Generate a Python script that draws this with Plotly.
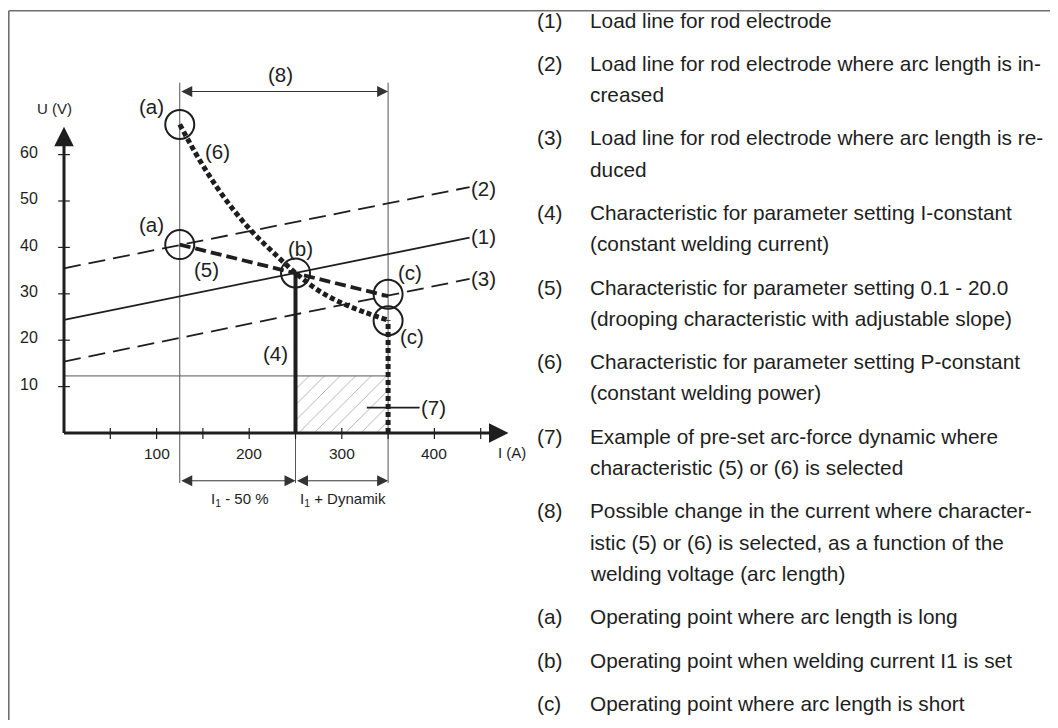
import plotly.graph_objects as go

# ---------------- data ----------------
# load lines (current A -> voltage V)
I_LOAD = [0, 438]
U_LOAD_1 = [24.4, 42.1]
U_LOAD_2 = [35.5, 53.0]
U_LOAD_3 = [15.4, 33.2]

# drooping characteristic (5)
I_DROOP = [125, 250, 350]
U_DROOP = [40.6, 34.5, 29.5]

# P-constant characteristic (6)
I_PCONST = [125, 145, 165, 185, 205, 225, 250, 275, 300, 325, 350]
U_PCONST = [66.5, 59.3, 53.0, 47.6, 43.0, 39.1, 34.5, 30.7, 28.0, 26.0, 24.3]

# key currents / voltages
I_SET = 250        # welding current I1
U_SET = 34.5
I_LOW = 125        # I1 - 50 %
I_HIGH = 350       # I1 + dynamic
U_DYN = 12.3       # top of arc-force dynamic box
U_REF_TOP = 75.5   # top of thin reference verticals
U_REF_BOT = -10.8  # bottom of thin reference verticals
U_DIM_TOP = 73.6   # (8) dimension arrow
U_DIM_BOT = -10.3  # bottom dimension arrows

# operating points (circles)
OP_I = [125, 125, 250, 350, 350]
OP_U = [66.5, 40.6, 34.5, 29.9, 24.2]

# axes
X_AXIS_END = 480
Y_AXIS_END = 66
X_TICKS = [50, 100, 150, 200, 250, 300, 350, 400, 450]
X_TICK_LABELS = [100, 200, 300, 400]
Y_TICKS = [10, 20, 30, 40, 50, 60]

# reference marks in the diagram
MARK_TEXT = ["(a)", "(6)", "(a)", "(5)", "(b)", "(4)", "(c)", "(c)",
             "(1)", "(2)", "(3)", "(7)", "(8)"]
MARK_I = [94.7, 165.5, 94.7, 153.5, 254.9, 227.9, 373.7, 375.5,
          452.8, 452.8, 452.8, 399.5, 233.3]
MARK_U = [70.3, 60.6, 45.0, 35.3, 39.8, 17.2, 34.6, 20.9,
          42.3, 52.7, 33.3, 5.45, 77.2]
LEADER7_I = [327, 384]
LEADER7_U = [5.45, 5.45]

# explanation column
KEY_NUM = ["(1)", "(2)", "(3)", "(4)", "(5)", "(6)", "(7)", "(8)", "(a)", "(b)", "(c)"]
KEY_LINES = [
    ["Load line for rod electrode"],
    ["Load line for rod electrode where arc length is in-", "creased"],
    ["Load line for rod electrode where arc length is re-", "duced"],
    ["Characteristic for parameter setting I-constant", "(constant welding current)"],
    ["Characteristic for parameter setting 0.1 - 20.0",
     "(drooping characteristic with adjustable slope)"],
    ["Characteristic for parameter setting P-constant", "(constant welding power)"],
    ["Example of pre-set arc-force dynamic where",
     "characteristic (5) or (6) is selected"],
    ["Possible change in the current where character-",
     "istic (5) or (6) is selected, as a function of the",
     "welding voltage (arc length)"],
    ["Operating point where arc length is long"],
    ["Operating point when welding current I1 is set"],
    ["Operating point where arc length is short"],
]

# ---------------- figure ----------------
OFF = 8  # page body margin
W, H = 1058 - 2 * OFF, 728 - 2 * OFF
PX_X0, PX_PER_A = 64.0 - OFF, 0.926
PX_Y0, PX_PER_V = 433.0 - OFF, 4.64
x_range = [(0 - PX_X0) / PX_PER_A, (W - PX_X0) / PX_PER_A]
y_range = [(PX_Y0 - H) / PX_PER_V, PX_Y0 / PX_PER_V]

FONT = "Liberation Sans, Arial, Helvetica, sans-serif"
INK = "#1e1e1e"
THIN = "#555555"

fig = go.Figure()


def line(x, y, width, color=INK, dash="solid", shape="linear"):
    fig.add_trace(go.Scatter(x=x, y=y, mode="lines", hoverinfo="skip",
                             showlegend=False,
                             line=dict(width=width, color=color, dash=dash, shape=shape)))


# arc-force dynamic box (7)
fig.add_trace(go.Scatter(
    x=[I_SET, I_HIGH, I_HIGH, I_SET, I_SET], y=[0, 0, U_DYN, U_DYN, 0],
    mode="lines", fill="toself", fillcolor="rgba(255,255,255,0)",
    fillpattern=dict(shape="/", size=11, solidity=0.08, fgcolor="#555", bgcolor="white"),
    line=dict(width=0), hoverinfo="skip", showlegend=False))

# thin reference lines
line([I_LOW, I_LOW], [U_REF_TOP, U_REF_BOT], 1, THIN)
line([I_HIGH, I_HIGH], [U_REF_TOP, U_REF_BOT], 1, THIN)
line([I_SET, I_SET], [0, U_REF_BOT], 1, THIN)
line([0, I_HIGH], [U_DYN, U_DYN], 1, THIN)

# load lines
line(I_LOAD, U_LOAD_1, 1.8)
line(I_LOAD, U_LOAD_2, 1.8, dash="17px,8px")
line(I_LOAD, U_LOAD_3, 1.8, dash="17px,8px")

# axes
line([0, 0], [0, Y_AXIS_END - 2], 3)
line([0, X_AXIS_END - 6], [0, 0], 3)
for t in X_TICKS:
    line([t, t], [1.1, -1.3], 1.2)
for t in Y_TICKS:
    line([-6.3, 6.3], [t, t], 1.2)

# characteristics
line([I_SET, I_SET], [0, U_SET], 4)
line(I_DROOP, U_DROOP, 3.8, dash="11px,5px")
line(I_PCONST, U_PCONST, 5, dash="5px,3px", shape="spline")
line([I_HIGH, I_HIGH], [0, U_PCONST[-1]], 5, dash="5px,3px")

# leader for (7)
line(LEADER7_I, LEADER7_U, 1.8)

# operating point circles
fig.add_trace(go.Scatter(x=OP_I, y=OP_U, mode="markers", hoverinfo="skip",
                         showlegend=False,
                         marker=dict(symbol="circle-open", size=29,
                                     line=dict(width=2, color=INK), color=INK)))

ann = []
# axis arrowheads
ann.append(dict(x=0, y=Y_AXIS_END, ax=0, ay=Y_AXIS_END - 4, xref="x", yref="y",
                axref="x", ayref="y", text="", showarrow=True, arrowhead=2,
                arrowsize=1.3, arrowwidth=3, arrowcolor=INK))
ann.append(dict(x=X_AXIS_END, y=0, ax=X_AXIS_END - 15, ay=0, xref="x", yref="y",
                axref="x", ayref="y", text="", showarrow=True, arrowhead=2,
                arrowsize=1.3, arrowwidth=3, arrowcolor=INK))
# dimension arrows
for (xa, xb, yy) in [(I_LOW, I_HIGH, U_DIM_TOP), (I_LOW, I_SET, U_DIM_BOT),
                     (I_SET, I_HIGH, U_DIM_BOT)]:
    ann.append(dict(x=xb, y=yy, ax=xa, ay=yy, xref="x", yref="y", axref="x",
                    ayref="y", text="", showarrow=True, arrowhead=2,
                    arrowside="end+start", arrowsize=2.2, arrowwidth=1,
                    arrowcolor="#333"))

# tick labels
for t in X_TICK_LABELS:
    ann.append(dict(x=t, y=-4.5, xref="x", yref="y", text=str(t), showarrow=False,
                    font=dict(family=FONT, size=15.5, color=INK)))
for t in Y_TICKS:
    ann.append(dict(x=-37.5, y=t + 0.5, xref="x", yref="y", text=str(t),
                    showarrow=False, font=dict(family=FONT, size=16, color=INK)))
ann.append(dict(x=-10.8, y=70.0, xref="x", yref="y", text="U (V)", showarrow=False,
                font=dict(family=FONT, size=15, color=INK)))
ann.append(dict(x=484, y=-4.1, xref="x", yref="y", text="I (A)", showarrow=False,
                font=dict(family=FONT, size=15, color=INK)))
ann.append(dict(x=190, y=-14.4, xref="x", yref="y", text="I<sub>1</sub> - 50 %",
                showarrow=False, font=dict(family=FONT, size=15, color=INK)))
ann.append(dict(x=301, y=-14.4, xref="x", yref="y", text="I<sub>1</sub> + Dynamik",
                showarrow=False, font=dict(family=FONT, size=15, color=INK)))

# diagram reference marks
for t, xi, yu in zip(MARK_TEXT, MARK_I, MARK_U):
    ann.append(dict(x=xi, y=yu, xref="x", yref="y", text=t, showarrow=False,
                    font=dict(family=FONT, size=20.5, color=INK)))

# explanation column (page pixel positions, converted to figure paper coords)
NUM_X, TXT_X = 535 - OFF, 588 - OFF
ITEM_GAP, LINE_GAP = 43.3, 31.3
y = 20.0 - OFF
for num, lines_ in zip(KEY_NUM, KEY_LINES):
    ann.append(dict(x=NUM_X / W, y=1 - y / H, xref="paper", yref="paper", text=num,
                    xanchor="left", yanchor="middle", showarrow=False,
                    font=dict(family=FONT, size=20.8, color=INK)))
    for k, txt in enumerate(lines_):
        ann.append(dict(x=TXT_X / W, y=1 - (y + k * LINE_GAP) / H, xref="paper",
                        yref="paper", text=txt, xanchor="left", yanchor="middle",
                        showarrow=False, font=dict(family=FONT, size=20.8, color=INK)))
    y += ITEM_GAP + LINE_GAP * (len(lines_) - 1)

# frame (top and left edges)
FX, FY = 8 - OFF, 10 - OFF
shapes = [
    dict(type="line", xref="paper", yref="paper", x0=(FX + 0.8) / W, x1=1,
         y0=1 - (FY + 0.8) / H, y1=1 - (FY + 0.8) / H,
         line=dict(color="#6f6f6f", width=1.6)),
    dict(type="line", xref="paper", yref="paper", x0=(FX + 0.8) / W, x1=(FX + 0.8) / W,
         y0=1 - (FY + 0.8) / H, y1=0, line=dict(color="#6f6f6f", width=1.6)),
]

fig.update_layout(
    width=W, height=H, margin=dict(l=0, r=0, t=0, b=0),
    paper_bgcolor="white", plot_bgcolor="white",
    xaxis=dict(range=x_range, visible=False, fixedrange=True),
    yaxis=dict(range=y_range, visible=False, fixedrange=True),
    annotations=ann, shapes=shapes, showlegend=False,
)

fig.write_html("out.html")
